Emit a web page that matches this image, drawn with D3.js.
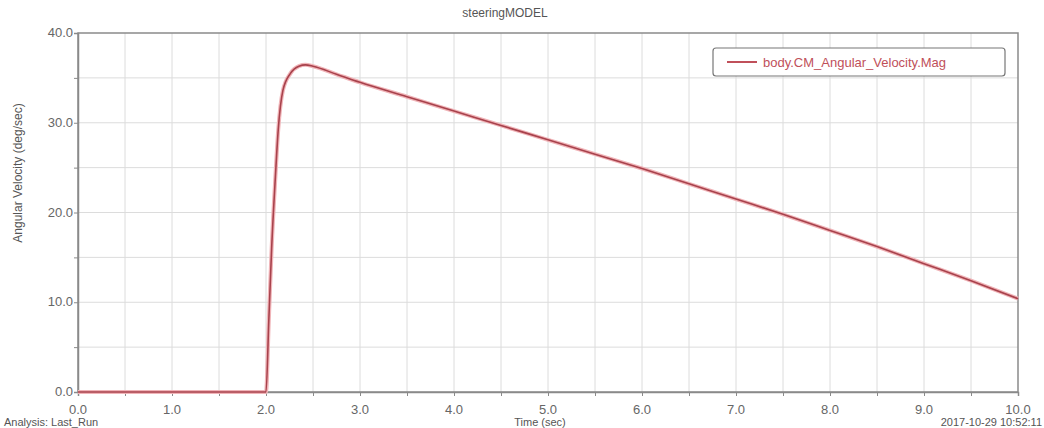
<!DOCTYPE html>
<html>
<head>
  <script src="https://d3js.org/d3.v7.min.js"></script>
  <style>
    body { margin: 0; background: #fff; font-family: "Liberation Sans", Arial, sans-serif; }
    svg { display: block; }
    .tick-label { fill: #666; font-size: 13px; }
    .grid line { stroke: #dcdcdc; stroke-width: 1; }
  </style>
</head>
<body>
<svg id="chart" width="1044" height="428"></svg>
<script>
  // time (sec) and angular velocity magnitude (deg/sec)
  const timeValues = [0.0, 1.0, 1.99, 2.0, 2.03, 2.06, 2.1, 2.13, 2.18, 2.26, 2.35, 2.42, 2.5, 2.75,
    3.0, 3.5, 4.0, 4.5, 5.0, 5.5, 6.0, 6.5, 7.0, 7.5, 8.0, 8.5, 9.0, 9.5, 10.0];
  const velocityValues = [0.0, 0.0, 0.0, 0.0, 8.0, 16.0, 24.0, 29.2, 33.6, 35.5, 36.3, 36.45, 36.3, 35.4,
    34.5, 32.9, 31.3, 29.7, 28.1, 26.5, 24.9, 23.2, 21.5, 19.8, 18.0, 16.2, 14.3, 12.4, 10.4];

  const xTicks = [0, 1, 2, 3, 4, 5, 6, 7, 8, 9, 10];
  const yTicks = [0, 10, 20, 30, 40];
  const seriesName = "body.CM_Angular_Velocity.Mag";

  const svg = d3.select("#chart");
  const plotLeft = 78, plotRight = 1018, plotTop = 33, plotBottom = 392;

  const x = d3.scaleLinear().domain([0, 10]).range([plotLeft, plotRight]);
  const y = d3.scaleLinear().domain([0, 40]).range([plotBottom, plotTop]);

  // grid every 0.5 s and 5 deg/sec
  const grid = svg.append("g").attr("class", "grid");
  d3.range(0.5, 10, 0.5).forEach(t => {
    grid.append("line").attr("x1", x(t)).attr("x2", x(t)).attr("y1", plotTop).attr("y2", plotBottom);
  });
  d3.range(5, 40, 5).forEach(v => {
    grid.append("line").attr("x1", plotLeft).attr("x2", plotRight).attr("y1", y(v)).attr("y2", y(v));
  });

  // frame
  svg.append("rect")
    .attr("x", plotLeft).attr("y", plotTop)
    .attr("width", plotRight - plotLeft).attr("height", plotBottom - plotTop)
    .attr("fill", "none").attr("stroke", "#8a8a8a").attr("stroke-width", 1.5);

  // axes
  const xAxis = svg.append("g").attr("transform", `translate(0,${plotBottom})`)
    .call(d3.axisBottom(x).tickValues(d3.range(0, 10.01, 0.5)).tickSize(4).tickFormat(""));
  const yAxis = svg.append("g").attr("transform", `translate(${plotLeft},0)`)
    .call(d3.axisLeft(y).tickValues(d3.range(0, 40.01, 5)).tickSize(4).tickFormat(""));
  [xAxis, yAxis].forEach(a => {
    a.select(".domain").attr("stroke", "#8a8a8a").attr("stroke-width", 1.5);
    a.selectAll(".tick line").attr("stroke", "#8a8a8a");
  });

  svg.append("g").selectAll("text").data(xTicks).join("text")
    .attr("class", "tick-label")
    .attr("x", d => x(d)).attr("y", 414)
    .attr("text-anchor", "middle")
    .text(d => d.toFixed(1));

  svg.append("g").selectAll("text").data(yTicks).join("text")
    .attr("class", "tick-label")
    .attr("x", plotLeft - 5).attr("y", d => y(d) + 4)
    .attr("text-anchor", "end")
    .text(d => d.toFixed(1));

  // curve
  const points = timeValues.map((t, i) => [t, velocityValues[i]]);
  const line = d3.line().x(d => x(d[0])).y(d => y(d[1])).curve(d3.curveMonotoneX);
  svg.append("path").datum(points)
    .attr("d", line).attr("fill", "none")
    .attr("stroke", "#f0b4b8").attr("stroke-width", 4);
  svg.append("path").datum(points)
    .attr("d", line).attr("fill", "none")
    .attr("stroke", "#a8424c").attr("stroke-width", 1.6);

  // titles
  svg.append("text").attr("x", 505).attr("y", 17)
    .attr("text-anchor", "middle").attr("fill", "#555").attr("font-size", 12)
    .text("steeringMODEL");

  svg.append("text")
    .attr("transform", "translate(22,173) rotate(-90)")
    .attr("text-anchor", "middle").attr("fill", "#555").attr("font-size", 12)
    .text("Angular Velocity (deg/sec)");

  // footer texts, sitting at the bottom edge as in the reference
  svg.append("text").attr("x", 540).attr("y", 426)
    .attr("text-anchor", "middle").attr("fill", "#555").attr("font-size", 11)
    .text("Time (sec)");
  svg.append("text").attr("x", 4).attr("y", 426)
    .attr("fill", "#555").attr("font-size", 11)
    .text("Analysis: Last_Run");
  svg.append("text").attr("x", 1042).attr("y", 426)
    .attr("text-anchor", "end").attr("fill", "#555").attr("font-size", 11)
    .text("2017-10-29 10:52:11");

  // legend
  const legend = svg.append("g");
  legend.append("rect")
    .attr("x", 713).attr("y", 48).attr("width", 292).attr("height", 28)
    .attr("rx", 3).attr("fill", "#fff").attr("stroke", "#777").attr("stroke-width", 1.2);
  legend.append("line")
    .attr("x1", 727).attr("x2", 757).attr("y1", 62).attr("y2", 62)
    .attr("stroke", "#c0505a").attr("stroke-width", 2);
  legend.append("text")
    .attr("x", 763).attr("y", 66.5)
    .attr("fill", "#c0505a").attr("font-size", 13)
    .text(seriesName);
</script>
</body>
</html>
